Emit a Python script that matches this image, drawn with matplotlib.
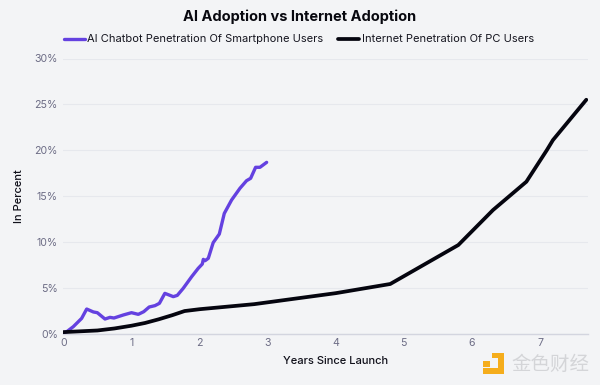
import matplotlib
matplotlib.use("Agg")
import matplotlib.pyplot as plt
from matplotlib.patches import Rectangle

ai_x = [0, 0.05, 0.146, 0.268, 0.342, 0.44, 0.498, 0.611, 0.684, 0.743, 0.88, 1.0, 1.10, 1.18, 1.26, 1.345, 1.41, 1.49,
        1.614, 1.673, 1.76, 1.884, 1.98, 2.04, 2.055, 2.08, 2.128, 2.2, 2.29, 2.363, 2.47, 2.593, 2.69, 2.75, 2.823, 2.887, 2.985]
ai_y = [0.1, 0.2, 0.75, 1.65, 2.67, 2.35, 2.27, 1.58, 1.76, 1.69, 2.02, 2.27, 2.09, 2.38, 2.89, 3.04, 3.29, 4.38,
        4.02, 4.16, 4.93, 6.2, 7.11, 7.58, 8.09, 7.94, 8.2, 9.91, 10.85, 13.1, 14.56, 15.84, 16.67, 16.93, 18.13, 18.13, 18.67]
net_x = [0, 0.5, 0.75, 1, 1.2, 1.4, 1.6, 1.78, 2, 2.8, 3.3, 4, 4.8, 5.2, 5.8, 6.31, 6.8, 7.1, 7.19, 7.68]
net_y = [0.15, 0.33, 0.55, 0.85, 1.15, 1.55, 2.0, 2.45, 2.65, 3.2, 3.7, 4.4, 5.4, 7.1, 9.65, 13.47, 16.56, 20.0, 21.1, 25.5]
y_ticks = [0, 5, 10, 15, 20, 25, 30]
x_ticks = [0, 1, 2, 3, 4, 5, 6, 7]

BG = "#f3f4f6"
W, H = 600, 385
plt.rcParams['font.family'] = ['Inter', 'DejaVu Sans']
fig = plt.figure(figsize=(6, 3.85), dpi=100, facecolor=BG)
ax = fig.add_axes([63.4 / W, 1 - 333.5 / H, (588 - 63.4) / W, 275 / H], facecolor=BG)

ax.plot(ai_x, ai_y, color="#6441e0", lw=2.4, solid_capstyle="round", solid_joinstyle="round",
        label="AI Chatbot Penetration Of Smartphone Users", zorder=3)
ax.plot(net_x, net_y, color="#05050f", lw=2.7, solid_capstyle="round", solid_joinstyle="round",
        label="Internet Penetration Of PC Users", zorder=4)

ax.set_xlim(0, 7.705)
ax.set_ylim(0, 30)
ax.set_yticks(y_ticks)
ax.set_yticklabels([f"{v}%" for v in y_ticks])
ax.set_xticks(x_ticks)
ax.tick_params(axis="both", length=0, labelsize=7.6, labelcolor="#6c6c85")
ax.tick_params(axis="y", pad=4)
ax.tick_params(axis="x", pad=3.5)
ax.grid(axis="y", color="#e6e8ed", lw=0.8)
ax.set_axisbelow(True)
for s in ["top", "right", "left"]:
    ax.spines[s].set_visible(False)
ax.spines["bottom"].set_color("#d3d5df")
ax.spines["bottom"].set_linewidth(1.0)

ax.set_xlabel("Years Since Launch", fontsize=8, fontweight="medium", color="#10101a", labelpad=6)
ax.xaxis.set_label_coords((336 - 63.4) / (588 - 63.4), -(361 - 333.5) / 275, transform=ax.transAxes)
ax.xaxis.label.set_va("center")
ax.set_ylabel("In Percent", fontsize=8, fontweight="medium", color="#10101a")
ax.yaxis.set_label_coords(-(63.4 - 19) / (588 - 63.4), (333.5 - 196) / 275, transform=ax.transAxes)
ax.yaxis.label.set_va("center")
fig.text(0.5, 1 - 17 / H, "AI Adoption vs Internet Adoption", ha="center", va="center",
         fontsize=10.5, fontweight="bold", color="#08080f")
leg = fig.legend(loc="center", bbox_to_anchor=(0.4983, 1 - 39.5 / H), ncol=2, frameon=False, fontsize=8,
                 handlelength=1.85, handletextpad=0.25, columnspacing=1.35, labelcolor="#15151f")

# watermark
fig.text(511 / W, 1 - 364.5 / H, "金色财经", ha="left", va="center", fontsize=14,
         family=['Noto Sans CJK SC', 'DejaVu Sans'], color="#d4d5d8", zorder=5)
gold = "#f5ad1c"
for (x0, y0, w, h) in [(492, 353, 6, 5), (483, 361, 7, 6), (483, 368, 21, 6), (498, 353, 6, 21)]:
    fig.add_artist(Rectangle((x0 / W, 1 - (y0 + h) / H), w / W, h / H, transform=fig.transFigure,
                             facecolor=gold, edgecolor="none"))

fig.savefig("out.png", dpi=100, facecolor=BG)
